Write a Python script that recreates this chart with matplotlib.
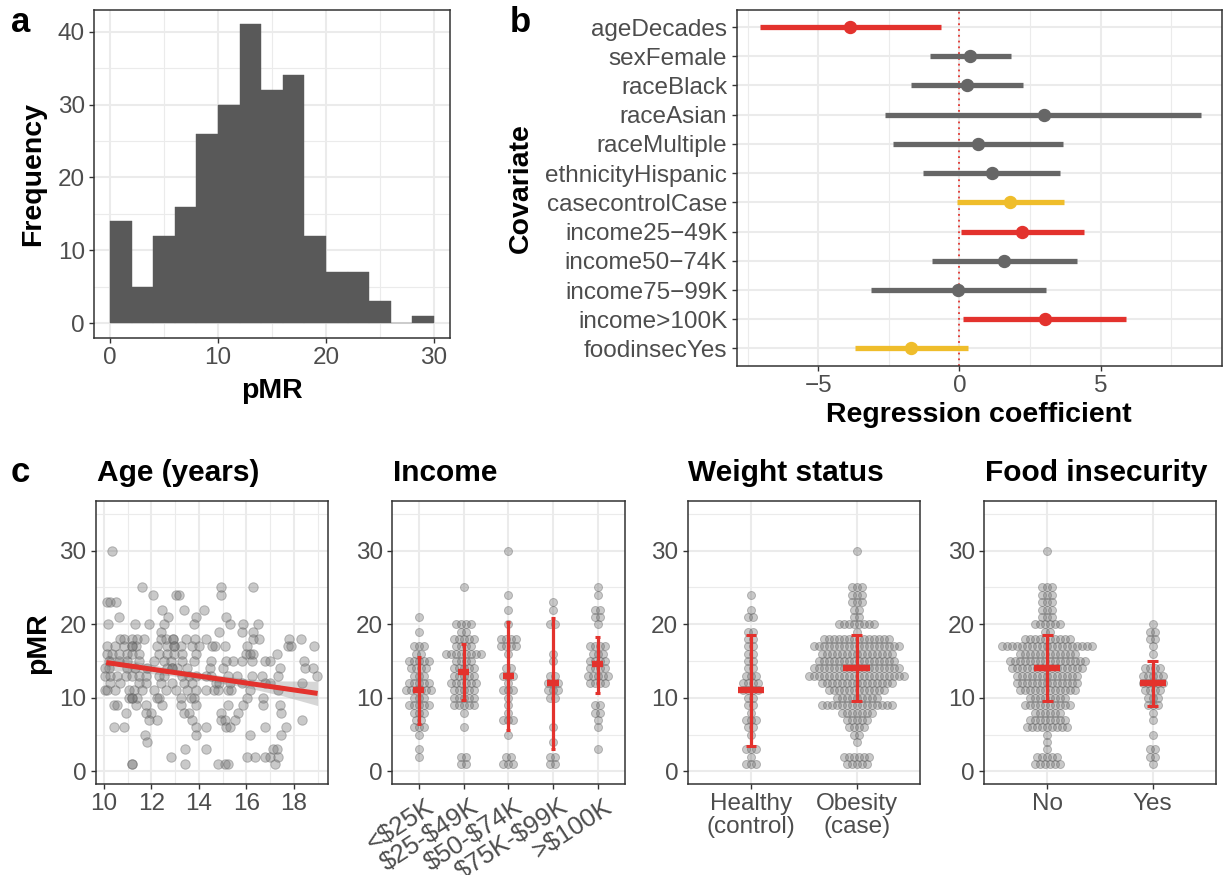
import numpy as np
import matplotlib
matplotlib.use("Agg")
import matplotlib.pyplot as plt
from matplotlib.transforms import ScaledTranslation

plt.rcParams['font.family'] = ['Liberation Sans', 'DejaVu Sans']
plt.rcParams['axes.unicode_minus'] = True

W, H, DPI = 1225, 875, 100

# ------------------------------------------------------------------ data
# (a) histogram of pMR (bin width 2, first bin starts at 0)
hist_bin_width = 2
hist_counts = [14, 5, 12, 16, 26, 30, 41, 32, 34, 12, 7, 7, 3, 0, 1]

# (b) regression coefficients
covariates = ["ageDecades", "sexFemale", "raceBlack", "raceAsian", "raceMultiple",
              "ethnicityHispanic", "casecontrolCase", "income25\u221249K", "income50\u221274K",
              "income75\u221299K", "income>100K", "foodinsecYes"]
coef = [-3.87, 0.39, 0.28, 2.99, 0.65, 1.14, 1.80, 2.22, 1.58, -0.05, 3.03, -1.72]
coef_lo = [-7.08, -1.06, -1.71, -2.65, -2.36, -1.30, -0.08, 0.04, -0.99, -3.14, 0.12, -3.71]
coef_hi = [-0.67, 1.83, 2.26, 8.55, 3.66, 3.56, 3.70, 4.40, 4.15, 3.06, 5.90, 0.31]
coef_group = ["sig", "ns", "ns", "ns", "ns", "ns", "trend", "sig", "ns", "ns", "sig", "trend"]

# (c) age vs pMR scatter
age_years = [
    10.33,
    11.59, 14.95, 16.29,
    12.08, 13.03, 13.17, 14.95,
    10.14, 10.28, 10.52,
    12.46, 13.38, 14.22,
    10.66, 12.72, 13.90, 15.16,
    10.18, 11.31, 11.90, 12.53, 13.80, 15.33, 15.87, 16.50,
    12.42, 14.84, 15.82, 16.29,
    10.70, 10.85, 11.20, 11.41, 11.69, 12.39, 12.60, 12.91, 12.91, 13.45, 13.84, 14.29, 16.26, 16.54, 17.79, 18.29,
    10.14, 10.49, 10.85, 11.20, 11.20, 11.34, 12.25, 12.67, 12.96, 12.96, 13.24, 13.73, 14.01, 14.57, 14.67, 15.09, 16.04, 17.77, 17.90, 18.85,
    10.14, 10.35, 10.66, 10.99, 11.20, 11.48, 12.32, 12.67, 12.96, 13.28, 13.87, 15.98, 16.15, 16.29, 17.27,
    10.21, 10.66, 10.99, 11.48, 12.11, 12.53, 12.81, 13.31, 13.80, 14.50, 15.16, 15.44, 15.80, 16.22, 16.78, 17.00, 18.43,
    10.05, 10.21, 10.99, 11.31, 11.83, 12.67, 12.88, 12.88, 13.10, 13.52, 14.46, 15.02, 17.41, 18.47, 18.82,
    10.07, 10.28, 10.56, 10.92, 11.20, 11.48, 11.76, 12.32, 12.53, 13.31, 13.59, 13.87, 14.29, 14.50, 15.23, 15.59, 16.22, 16.64, 17.34, 18.99,
    10.28, 10.70, 11.48, 11.76, 12.39, 12.88, 13.38, 13.73, 14.74, 14.85, 15.30, 15.80, 16.78, 17.00, 18.33,
    10.05, 10.14, 10.49, 11.06, 11.27, 11.62, 12.11, 12.60, 13.03, 13.52, 13.87, 14.29, 14.64, 14.81, 15.23, 15.37, 16.15, 17.34,
    11.06, 11.20, 11.20, 11.41, 12.25, 12.32, 13.24, 13.66, 13.80, 16.01, 16.71,
    10.42, 10.56, 11.34, 11.76, 12.46, 13.24, 13.87, 15.23, 15.87, 16.71, 17.41,
    10.92, 11.76, 11.97, 13.38, 13.59, 14.95, 15.66, 17.48,
    11.90, 12.25, 13.73, 14.95, 15.09, 15.51, 18.33,
    10.42, 10.85, 13.87, 14.29, 15.16, 15.30, 16.78, 17.67,
    11.73, 13.87, 16.15, 17.48,
    11.80,
    13.42, 14.29, 17.13, 17.27,
    12.84, 16.01, 16.36, 16.78, 17.00, 17.34,
    11.17, 11.17, 13.42, 14.81, 15.09, 15.23, 17.20,
]
age_pmr = (
    [30] * 1 + [25] * 3 + [24] * 4 + [23] * 3 + [22] * 3 + [21] * 4 + [20] * 8 + [19] * 4 +
    [18] * 16 + [17] * 20 + [16] * 15 + [15] * 17 + [14] * 15 + [13] * 20 + [12] * 15 +
    [11] * 18 + [10] * 11 + [9] * 11 + [8] * 8 + [7] * 7 + [6] * 8 + [5] * 4 + [4] * 1 +
    [3] * 4 + [2] * 6 + [1] * 7
)
# fitted line and its confidence band
fit_x = [10.1, 19.0]
fit_y = [14.8, 10.6]
band_x = [10.1, 11.5, 13.0, 14.5, 16.0, 17.5, 19.0]
band_lo = [13.8, 13.45, 12.95, 12.25, 11.4, 10.3, 8.95]
band_hi = [15.8, 14.85, 13.9, 13.2, 12.6, 12.3, 12.25]

# beeswarm counts: index = pMR value 0..30
income_labels = ["<\\$25K", "\\$25-\\$49K", "\\$50-\\$74K", "\\$75K-\\$99K", ">\\$100K"]
inc_lt25 = [0, 0, 1, 1, 0, 1, 3, 2, 3, 5, 3, 6, 5, 3, 4, 5, 2, 3, 0, 1, 0, 1, 0, 0, 0, 0, 0, 0, 0, 0, 0]
inc_25_49 = [0, 2, 2, 0, 0, 0, 1, 0, 1, 5, 5, 5, 6, 5, 5, 4, 8, 4, 5, 2, 4, 0, 0, 0, 0, 1, 0, 0, 0, 0, 0]
inc_50_74 = [0, 3, 2, 0, 0, 1, 0, 3, 1, 1, 1, 3, 1, 3, 2, 0, 1, 4, 4, 0, 1, 0, 1, 0, 1, 0, 0, 0, 0, 0, 1]
inc_75_99 = [0, 2, 2, 0, 1, 0, 1, 0, 0, 0, 2, 3, 3, 2, 0, 1, 1, 0, 0, 0, 2, 0, 1, 1, 0, 0, 0, 0, 0, 0, 0]
inc_gt100 = [0, 0, 0, 1, 0, 0, 1, 1, 2, 2, 0, 0, 4, 5, 4, 4, 3, 4, 0, 0, 1, 2, 2, 0, 1, 1, 0, 0, 0, 0, 0]
income_center = [11.0, 13.5, 13.0, 12.0, 14.6]
income_lo = [6.4, 9.7, 5.6, 3.1, 10.7]
income_hi = [15.5, 17.3, 20.3, 20.9, 18.3]

weight_labels = ["Healthy\n(control)", "Obesity\n(case)"]
wt_healthy = [0, 3, 1, 3, 0, 1, 2, 3, 1, 2, 2, 4, 4, 3, 2, 2, 2, 2, 2, 2, 0, 2, 1, 0, 1, 0, 0, 0, 0, 0, 0]
wt_obesity = [0, 5, 6, 0, 1, 2, 4, 5, 7, 15, 9, 12, 15, 20, 18, 16, 15, 18, 14, 1, 8, 2, 2, 3, 3, 3, 0, 0, 0, 0, 1]
weight_center = [11.0, 14.0]
weight_lo = [3.5, 9.6]
weight_hi = [18.6, 18.6]

food_labels = ["No", "Yes"]
food_no = [0, 6, 5, 1, 1, 1, 9, 8, 6, 10, 8, 12, 13, 13, 15, 16, 12, 19, 10, 2, 6, 3, 3, 3, 3, 3, 0, 0, 0, 0, 1]
food_yes = [0, 1, 2, 2, 0, 1, 0, 1, 1, 3, 3, 4, 5, 5, 4, 0, 1, 1, 2, 2, 1, 0, 0, 0, 0, 0, 0, 0, 0, 0, 0]
food_center = [14.0, 12.0]
food_lo = [9.6, 8.9]
food_hi = [18.6, 15.0]

# ------------------------------------------------------------------ style
RED = "#E3322D"
YELLOW = "#EFBD2B"
GREYPT = "#666666"
GRID = "#EBEBEB"
BORDER = "#333333"
TICKTXT = "#4D4D4D"
TICK_FS = 17.5
TITLE_FS = 20.5
group_colors = {"sig": RED, "trend": YELLOW, "ns": GREYPT}

fig = plt.figure(figsize=(W / DPI, H / DPI), dpi=DPI)


def add_ax(l, t, r, b):
    return fig.add_axes([l / W, 1 - b / H, (r - l) / W, (b - t) / H])


def fx(px):
    return px / W


def fy(py):
    return 1 - py / H


def style(ax):
    for s in ax.spines.values():
        s.set_color(BORDER)
        s.set_linewidth(1.1)
    ax.tick_params(which='major', length=3.6, width=1.0, color=BORDER,
                   labelcolor=TICKTXT, labelsize=TICK_FS, pad=3.0)
    ax.tick_params(which='minor', length=0)
    ax.grid(which='major', color=GRID, lw=1.5)
    ax.grid(which='minor', color=GRID, lw=0.8)
    ax.set_axisbelow(True)


def swarm(ax, xc, counts, spacing):
    xs, ys = [], []
    for v, n in enumerate(counts):
        for i in range(n):
            xs.append(xc + (i - (n - 1) / 2) * spacing)
            ys.append(v)
    ax.scatter(xs, ys, s=33, facecolor=(0.42, 0.42, 0.42, 0.36),
               edgecolor=(0.4, 0.4, 0.4, 0.42), linewidths=0.7, zorder=3)


def summary(ax, x, c, lo, hi):
    ax.vlines(x, lo, hi, color=RED, lw=2.3, zorder=5)
    ax.hlines([lo, hi], x - 0.05, x + 0.05, color=RED, lw=2.2, zorder=5)
    ax.hlines(c, x - 0.125, x + 0.125, color=RED, lw=4.6, zorder=6)


# ------------------------------------------------------------------ (a)
ax = add_ax(94, 9.5, 450, 338)
style(ax)
lefts = np.arange(len(hist_counts)) * hist_bin_width
ax.bar(lefts, hist_counts, width=hist_bin_width, align='edge', color="#595959",
       edgecolor="#595959", linewidth=0.3, zorder=2)
ax.set_xlim(-1.5, 31.5)
ax.set_ylim(-2.05, 43.05)
ax.set_xticks([0, 10, 20, 30])
ax.set_xticks([5, 15, 25], minor=True)
ax.set_yticks([0, 10, 20, 30, 40])
ax.set_yticks([5, 15, 25, 35], minor=True)
fig.text(fx(272), fy(391), "pMR", fontsize=TITLE_FS, fontweight='bold', ha='center', va='center')
fig.text(fx(33), fy(174), "Frequency", fontsize=TITLE_FS, fontweight='bold', ha='center',
         va='center', rotation=90)
fig.text(fx(11), fy(32), "a", fontsize=25, fontweight='bold', ha='left', va='baseline')

# ------------------------------------------------------------------ (b)
ax = add_ax(736.5, 9.5, 1222, 366)
style(ax)
n = len(covariates)
ypos = np.arange(n, 0, -1)
ax.axvline(0, color=RED, lw=1.3, ls=(0, (1, 2.2)), zorder=2)
for yv, c, lo, hi, g in zip(ypos, coef, coef_lo, coef_hi, coef_group):
    col = group_colors[g]
    ax.plot([lo, hi], [yv, yv], color=col, lw=3.8, solid_capstyle='butt', zorder=3)
    ax.plot([c], [yv], 'o', color=col, ms=8.6, zorder=4)
ax.set_xlim(-7.9, 9.3)
ax.set_ylim(0.4, n + 0.6)
ax.set_xticks([-5, 0, 5])
ax.set_xticks([-7.5, -2.5, 2.5, 7.5], minor=True)
ax.set_yticks(ypos)
ax.set_yticklabels(covariates)
fig.text(fx(979), fy(415), "Regression coefficient", fontsize=TITLE_FS, fontweight='bold',
         ha='center', va='center')
fig.text(fx(521), fy(188), "Covariate", fontsize=TITLE_FS, fontweight='bold', ha='center',
         va='center', rotation=90)
fig.text(fx(510), fy(32), "b", fontsize=25, fontweight='bold', ha='left', va='baseline')

# ------------------------------------------------------------------ (c)
YL = (-1.75, 36.75)


def cpanel(l, r, title):
    a = add_ax(l, 501, r, 784.3)
    style(a)
    a.set_ylim(*YL)
    a.set_yticks([0, 10, 20, 30])
    a.set_yticks([5, 15, 25, 35], minor=True)
    fig.text(fx(l + 1), fy(481), title, fontsize=21.5, fontweight='bold', ha='left', va='baseline')
    return a


SP_PX = 5.0

# age
ax = cpanel(95.7, 328.3, "Age (years)")
ax.fill_between(band_x, band_lo, band_hi, color="#999999", alpha=0.4, lw=0, zorder=2)
ax.scatter(age_years, age_pmr, s=46, facecolor=(0.42, 0.42, 0.42, 0.36),
           edgecolor=(0.4, 0.4, 0.4, 0.42), linewidths=0.7, zorder=3)
ax.plot(fit_x, fit_y, color=RED, lw=3.6, solid_capstyle='butt', zorder=4)
ax.set_xlim(9.66, 19.45)
ax.set_xticks([10, 12, 14, 16, 18])
ax.set_xticks([11, 13, 15, 17, 19], minor=True)
fig.text(fx(38), fy(643), "pMR", fontsize=TITLE_FS, fontweight='bold', ha='center', va='center',
         rotation=90)
fig.text(fx(11), fy(482), "c", fontsize=25, fontweight='bold', ha='left', va='baseline')

# income
ax = cpanel(392, 624.5, "Income")
ax.set_xlim(0.4, 5.6)
sp = SP_PX * 5.2 / (624.5 - 392)
for i, cnt in enumerate([inc_lt25, inc_25_49, inc_50_74, inc_75_99, inc_gt100]):
    swarm(ax, i + 1, cnt, sp)
for i in range(5):
    summary(ax, i + 1, income_center[i], income_lo[i], income_hi[i])
ax.set_xticks(range(1, 6))
ax.set_xticklabels(income_labels, rotation=33, ha='right', va='top', rotation_mode='anchor',
                   fontsize=18.5)
off = ScaledTranslation(6 / DPI, -1 / DPI, fig.dpi_scale_trans)
for t in ax.get_xticklabels():
    t.set_transform(t.get_transform() + off)

# weight
ax = cpanel(687.5, 920, "Weight status")
ax.set_xlim(0.4, 2.6)
sp = SP_PX * 2.2 / (920 - 687.5)
for i, cnt in enumerate([wt_healthy, wt_obesity]):
    swarm(ax, i + 1, cnt, sp)
for i in range(2):
    summary(ax, i + 1, weight_center[i], weight_lo[i], weight_hi[i])
ax.set_xticks([1, 2])
ax.set_xticklabels(weight_labels, linespacing=1.05)

# food
ax = cpanel(984, 1216, "Food insecurity")
ax.set_xlim(0.4, 2.6)
sp = SP_PX * 2.2 / (1216 - 984)
for i, cnt in enumerate([food_no, food_yes]):
    swarm(ax, i + 1, cnt, sp)
for i in range(2):
    summary(ax, i + 1, food_center[i], food_lo[i], food_hi[i])
ax.set_xticks([1, 2])
ax.set_xticklabels(food_labels)

fig.savefig("out.png", dpi=DPI)
